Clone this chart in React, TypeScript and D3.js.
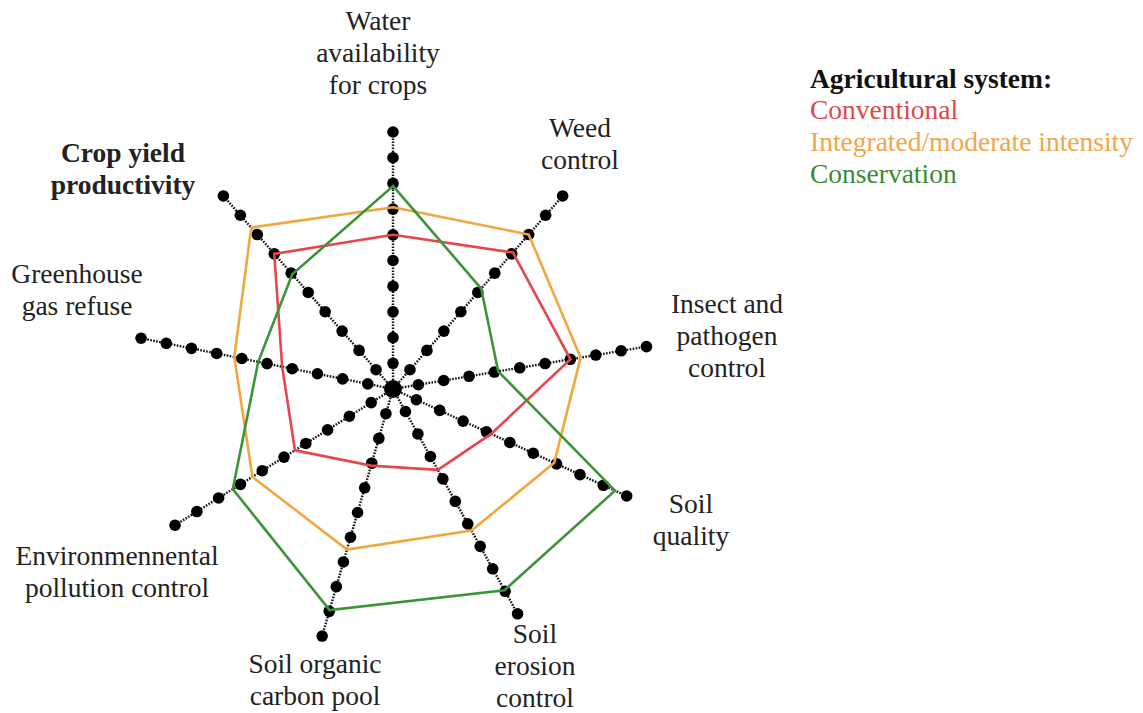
import React from "react";
import * as d3 from "d3";

// ---- data ----
const axisNames: string[][] = [
  ["Water", "availability", "for crops"],
  ["Weed", "control"],
  ["Insect and", "pathogen", "control"],
  ["Soil", "quality"],
  ["Soil", "erosion", "control"],
  ["Soil organic", "carbon pool"],
  ["Environmennental", "pollution control"],
  ["Greenhouse", "gas refuse"],
  ["Crop yield", "productivity"],
];
// axis directions in degrees, clockwise from 12 o'clock (as drawn in the source figure)
const axisAngles = [0, 41.3, 80.5, 114.6, 151, 196, 238, 281.4, 318.7];
const levels = [1, 2, 3, 4, 5, 6, 7, 8, 9, 10];

const seriesNames = ["Conventional", "Integrated/moderate intensity", "Conservation"];
const conventional = [6.0, 7.07, 7.0, 4.2, 3.6, 3.1, 4.5, 4.4, 7.0];
const integrated = [7.07, 8.0, 7.4, 6.9, 6.3, 6.5, 6.45, 6.3, 8.36];
const conservation = [7.9, 5.2, 4.15, 9.5, 8.95, 8.95, 7.35, 5.35, 5.94];
const legendTitle = "Agricultural system:";

// ---- layout ----
const W = 1143;
const H = 713;
const cx = 393;
const cy = 389;
const R = 257;
const colors = ["#e5474d", "#f2a640", "#3d9438"];
const legendColors = ["#e0474c", "#f0a64a", "#3a8a36"];
const labelLayout = [
  { x: 378, y: 30, bold: false },
  { x: 580, y: 137, bold: false },
  { x: 727, y: 313, bold: false },
  { x: 691, y: 513, bold: false },
  { x: 535, y: 643, bold: false },
  { x: 315, y: 673, bold: false },
  { x: 117, y: 565, bold: false },
  { x: 77, y: 283, bold: false },
  { x: 123, y: 162, bold: true },
];
const lineH = 32;
const font = "'Liberation Serif', 'Times New Roman', serif";

export default function App() {
  const r = d3.scaleLinear().domain([0, 10]).range([0, R]);
  const rad = (deg: number) => (deg * Math.PI) / 180;
  const pt = (i: number, v: number): [number, number] => {
    const a = rad(axisAngles[i]);
    return [cx + r(v) * Math.sin(a), cy - r(v) * Math.cos(a)];
  };
  const lineGen = d3.line<[number, number]>().curve(d3.curveLinearClosed);
  const allSeries = [conventional, integrated, conservation];

  return (
    <svg
      width={W}
      height={H}
      viewBox={`0 0 ${W} ${H}`}
      style={{ position: "absolute", left: 0, top: 0, background: "#fff" }}
    >
      <rect x={0} y={0} width={W} height={H} fill="#fff" />
      {/* axes */}
      {axisAngles.map((_, i) => {
        const [x2, y2] = pt(i, 10);
        return (
          <g key={"ax" + i}>
            <line
              x1={cx}
              y1={cy}
              x2={x2}
              y2={y2}
              stroke="#111"
              strokeWidth={2.4}
              strokeDasharray="1.6 1.4"
            />
            {levels.map((l) => {
              const [x, y] = pt(i, l);
              return <circle key={l} cx={x} cy={y} r={5.8} fill="#000" />;
            })}
          </g>
        );
      })}
      <circle cx={cx} cy={cy} r={9} fill="#000" />
      {/* series */}
      {allSeries.map((s, k) => (
        <path
          key={"s" + k}
          d={lineGen(s.map((v, i) => pt(i, v))) || ""}
          fill="none"
          stroke={colors[k]}
          strokeWidth={2.6}
          strokeLinejoin="miter"
        />
      ))}
      {/* axis labels */}
      {axisNames.map((lines, i) => (
        <text
          key={"lb" + i}
          x={labelLayout[i].x}
          y={labelLayout[i].y}
          textAnchor="middle"
          fontFamily={font}
          fontSize={27.5}
          fontWeight={labelLayout[i].bold ? "bold" : "normal"}
          fill="#222"
        >
          {lines.map((t, j) => (
            <tspan key={j} x={labelLayout[i].x} y={labelLayout[i].y + j * lineH}>
              {t}
            </tspan>
          ))}
        </text>
      ))}
      {/* legend */}
      <text x={810} y={88} fontFamily={font} fontSize={27.5} fontWeight="bold" fill="#111">
        {legendTitle}
      </text>
      {seriesNames.map((n, k) => (
        <text
          key={"lg" + k}
          x={810}
          y={119 + k * 32}
          fontFamily={font}
          fontSize={27.5}
          fill={legendColors[k]}
        >
          {n}
        </text>
      ))}
    </svg>
  );
}
